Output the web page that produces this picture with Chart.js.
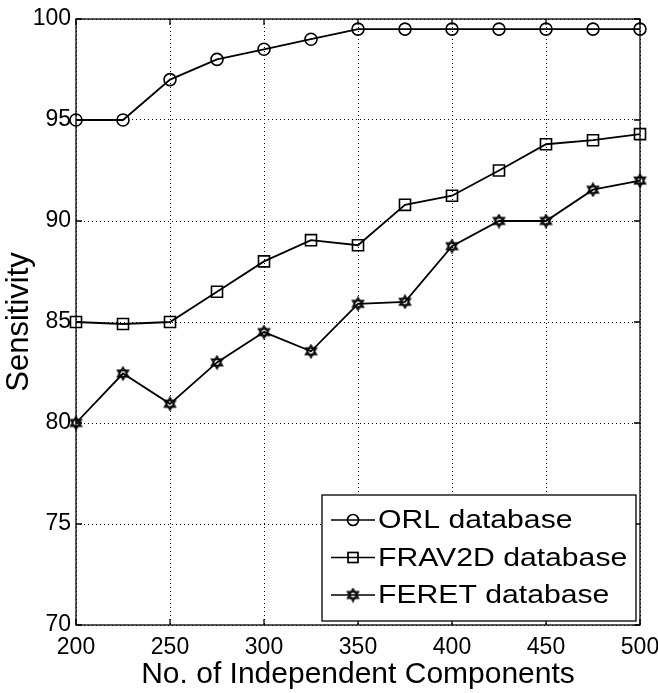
<!DOCTYPE html>
<html>
<head>
<meta charset="utf-8">
<script src="https://cdn.jsdelivr.net/npm/chart.js@4/dist/chart.umd.min.js"></script>
<style>
  html, body { margin: 0; padding: 0; background: #fff; }
  #wrap { width: 658px; height: 693px; }
</style>
</head>
<body>
<div id="wrap"><canvas id="c" width="658" height="693"></canvas></div>
<script>
const components = [200, 225, 250, 275, 300, 325, 350, 375, 400, 425, 450, 475, 500];
const orlValues = [95, 95, 97, 98, 98.5, 99, 99.5, 99.5, 99.5, 99.5, 99.5, 99.5, 99.5];
const fravValues = [85, 84.9, 85, 86.5, 88, 89.05, 88.8, 90.8, 91.25, 92.5, 93.8, 94, 94.3];
const feretValues = [80, 82.45, 80.95, 83, 84.5, 83.55, 85.9, 86, 88.75, 90, 90, 91.55, 92];
const seriesLabels = ['ORL database', 'FRAV2D database', 'FERET database'];
const xTicks = [200, 250, 300, 350, 400, 450, 500];
const yTicks = [70, 75, 80, 85, 90, 95, 100];

function hexagram(size) {
  const cv = document.createElement('canvas');
  cv.width = size; cv.height = size;
  const g = cv.getContext('2d');
  const c = size / 2, r = size / 2 - 1.3;
  g.strokeStyle = '#000'; g.lineWidth = 1.6; g.lineJoin = 'miter';
  for (let t = 0; t < 2; t++) {
    g.beginPath();
    for (let k = 0; k < 3; k++) {
      const a = -Math.PI / 2 + t * Math.PI + k * 2 * Math.PI / 3;
      const px = c + r * Math.cos(a), py = c + r * Math.sin(a);
      if (k === 0) g.moveTo(px, py); else g.lineTo(px, py);
    }
    g.closePath(); g.stroke();
  }
  return cv;
}
const starImg = hexagram(15);

function toXY(vals) { return components.map((x, i) => ({ x: x, y: vals[i] })); }

const frame = {
  id: 'frame',
  afterDatasetsDraw(chart) {
    const { ctx, chartArea: a, scales } = chart;
    ctx.save();
    ctx.strokeStyle = '#000'; ctx.lineWidth = 1.3;
    ctx.strokeRect(a.left, a.top, a.right - a.left, a.bottom - a.top);
    const tl = 6;
    ctx.beginPath();
    xTicks.forEach(v => {
      const px = scales.x.getPixelForValue(v);
      ctx.moveTo(px, a.bottom); ctx.lineTo(px, a.bottom - tl);
      ctx.moveTo(px, a.top); ctx.lineTo(px, a.top + tl);
    });
    yTicks.forEach(v => {
      const py = scales.y.getPixelForValue(v);
      ctx.moveTo(a.left, py); ctx.lineTo(a.left + tl, py);
      ctx.moveTo(a.right, py); ctx.lineTo(a.right - tl, py);
    });
    ctx.stroke();
    ctx.restore();
  },
  afterDraw(chart) {
    const { ctx } = chart;
    const bx = 322, by = 495, bw = 314, bh = 126;
    ctx.save();
    ctx.fillStyle = '#fff';
    ctx.fillRect(bx, by, bw, bh);
    ctx.strokeStyle = '#000'; ctx.lineWidth = 1.3;
    ctx.strokeRect(bx, by, bw, bh);
    const rows = [520, 557.5, 595];
    chart.data.datasets.forEach((ds, i) => {
      const y = rows[i];
      ctx.strokeStyle = '#000'; ctx.lineWidth = 1.7;
      ctx.beginPath(); ctx.moveTo(331, y); ctx.lineTo(375, y); ctx.stroke();
      const mx = 353;
      if (ds.pointStyle === 'circle') {
        ctx.beginPath(); ctx.arc(mx, y, 5.5, 0, Math.PI * 2); ctx.stroke();
      } else if (ds.pointStyle === 'rect') {
        ctx.strokeRect(mx - 5, y - 5, 10, 10);
      } else {
        ctx.drawImage(ds.pointStyle, mx - ds.pointStyle.width / 2, y - ds.pointStyle.height / 2);
      }
      ctx.save();
      ctx.translate(378, y);
      ctx.scale(1.16, 1);
      ctx.fillStyle = '#000';
      ctx.font = '26px "Liberation Sans", Arial, sans-serif';
      ctx.textAlign = 'left'; ctx.textBaseline = 'middle';
      ctx.fillText(ds.label, 0, 1);
      ctx.restore();
    });
    ctx.restore();
  }
};

new Chart(document.getElementById('c'), {
  type: 'line',
  data: {
    datasets: [
      { label: seriesLabels[0], data: toXY(orlValues), pointStyle: 'circle', pointRadius: 6, pointHoverRadius: 6 },
      { label: seriesLabels[1], data: toXY(fravValues), pointStyle: 'rect', pointRadius: 7.8, pointHoverRadius: 7.8 },
      { label: seriesLabels[2], data: toXY(feretValues), pointStyle: starImg, pointRadius: 7, pointHoverRadius: 7 }
    ].map(d => Object.assign(d, {
      borderColor: '#000', backgroundColor: 'rgba(0,0,0,0)', pointBorderColor: '#000',
      pointBackgroundColor: 'rgba(0,0,0,0)', borderWidth: 1.8, pointBorderWidth: 1.6,
      tension: 0, clip: false
    }))
  },
  options: {
    responsive: false,
    animation: false,
    events: [],
    layout: { padding: { left: 0, right: 18, top: 19, bottom: 0 } },
    plugins: { legend: { display: false }, tooltip: { enabled: false } },
    scales: {
      x: {
        type: 'linear', min: 200, max: 500,
        afterBuildTicks: s => { s.ticks = xTicks.map(v => ({ value: v })); },
        afterFit: s => { s.height = 68; s.paddingLeft = 0; s.paddingRight = 0; },
        grid: { color: '#000', lineWidth: 1, drawTicks: false },
        border: { display: false, dash: [1, 3] },
        ticks: { color: '#000', padding: 9, maxRotation: 0, autoSkip: false,
                 font: { family: '"Liberation Sans", Arial, sans-serif', size: 23 } },
        title: { display: true, text: 'No. of Independent Components', color: '#000',
                 padding: { top: 0, bottom: 0 },
                 font: { family: '"Liberation Sans", Arial, sans-serif', size: 30 } }
      },
      y: {
        type: 'linear', min: 70, max: 100,
        afterBuildTicks: s => { s.ticks = yTicks.map(v => ({ value: v })); },
        afterFit: s => { s.width = 76; s.paddingTop = 0; s.paddingBottom = 0; },
        grid: { color: '#000', lineWidth: 1, drawTicks: false },
        border: { display: false, dash: [1, 3] },
        ticks: { color: '#000', padding: 5, autoSkip: false,
                 font: { family: '"Liberation Sans", Arial, sans-serif', size: 23 } },
        title: { display: true, text: 'Sensitivity', color: '#000',
                 padding: { top: 1, bottom: 0 },
                 font: { family: '"Liberation Sans", Arial, sans-serif', size: 31 } }
      }
    }
  },
  plugins: [frame]
});
</script>
</body>
</html>
